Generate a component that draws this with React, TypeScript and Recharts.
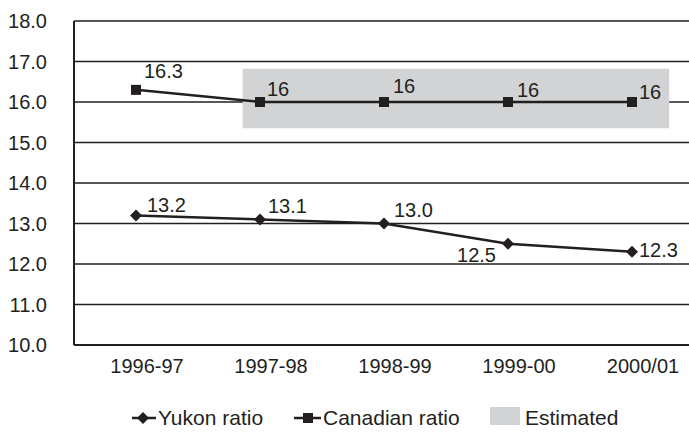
import React from 'react';
import {
  LineChart,
  Line,
  XAxis,
  YAxis,
  CartesianGrid,
  ReferenceArea,
  LabelList
} from 'recharts';

// Data
const years = ['1996-97', '1997-98', '1998-99', '1999-00', '2000/01'];
const yukonRatio = [13.2, 13.1, 13.0, 12.5, 12.3];
const canadianRatio = [16.3, 16, 16, 16, 16];
const yTicks = [10, 11, 12, 13, 14, 15, 16, 17, 18];
// Estimated band (x in category index units, y in ratio units)
const estimatedX = [0.86, 4.3];
const estimatedY = [15.35, 16.82];

const data = years.map((year, i) => ({
  idx: i,
  year,
  yukon: yukonRatio[i],
  canadian: canadianRatio[i]
}));

const INK = '#231f20';
const GREY = '#d1d3d4';
const FONT = '"Liberation Sans", Arial, sans-serif';

// label offsets relative to each point [dx, dy, anchor]
const yukonLabelPos: [number, number, string][] = [
  [11, -3, 'start'],
  [8, -6, 'start'],
  [10, -7, 'start'],
  [-12, 18, 'end'],
  [7, 5, 'start']
];
const canadianLabelPos: [number, number, string][] = [
  [8, -12, 'start'],
  [7, -6, 'start'],
  [9, -9, 'start'],
  [9, -5, 'start'],
  [7, -3, 'start']
];

const makeLabel = (pos: [number, number, string][], fmt: (v: number) => string) =>
  (props: any) => {
    const { x, y, value, index } = props;
    const [dx, dy, anchor] = pos[index];
    return (
      <text
        x={x + dx}
        y={y + dy}
        textAnchor={anchor}
        fontSize={20}
        fontFamily={FONT}
        fill={INK}
      >
        {fmt(value)}
      </text>
    );
  };

const Diamond = (props: any) => {
  const { cx, cy } = props;
  return (
    <polygon
      points={`${cx},${cy - 6} ${cx + 6},${cy} ${cx},${cy + 6} ${cx - 6},${cy}`}
      fill={INK}
    />
  );
};

const Square = (props: any) => {
  const { cx, cy } = props;
  return <rect x={cx - 5} y={cy - 5} width={10} height={10} fill={INK} />;
};

const XTick = (props: any) => {
  const { x, y, payload } = props;
  return (
    <text x={x + 11} y={y} dy="0.71em" textAnchor="middle" fontSize={20} fontFamily={FONT} fill={INK}>
      {years[payload.value]}
    </text>
  );
};

const App = () => {
  return (
    <div style={{ position: 'absolute', left: 0, top: 0, width: 689, height: 433, overflow: 'hidden', background: '#fff' }}>
      <LineChart
        width={694}
        height={433}
        data={data}
        margin={{ top: 21, right: 0, left: 0, bottom: 58 }}
      >
        <CartesianGrid vertical={false} stroke={INK} strokeWidth={1.5} />
        <ReferenceArea
          x1={estimatedX[0]}
          x2={estimatedX[1]}
          y1={estimatedY[0]}
          y2={estimatedY[1]}
          fill={GREY}
          fillOpacity={1}
          stroke="none"
        />
        <XAxis
          dataKey="idx"
          type="number"
          domain={[-0.5, 4.5]}
          ticks={[0, 1, 2, 3, 4]}
          height={30}
          axisLine={{ stroke: INK, strokeWidth: 2 }}
          tickLine={false}
          tickSize={0}
          tickMargin={14}
          tick={<XTick />}
        />
        <YAxis
          domain={[10, 18]}
          ticks={yTicks}
          width={74}
          axisLine={{ stroke: INK, strokeWidth: 2 }}
          tickLine={false}
          tickSize={0}
          tickMargin={27}
          tickFormatter={(v: number) => v.toFixed(1)}
          tick={{ fontSize: 20, fontFamily: FONT, fill: INK }}
        />
        <Line
          type="linear"
          dataKey="canadian"
          stroke={INK}
          strokeWidth={2.5}
          dot={<Square />}
          activeDot={false}
          isAnimationActive={false}
        >
          <LabelList dataKey="canadian" content={makeLabel(canadianLabelPos, (v) => String(v))} />
        </Line>
        <Line
          type="linear"
          dataKey="yukon"
          stroke={INK}
          strokeWidth={2.5}
          dot={<Diamond />}
          activeDot={false}
          isAnimationActive={false}
        >
          <LabelList dataKey="yukon" content={makeLabel(yukonLabelPos, (v) => v.toFixed(1))} />
        </Line>
      </LineChart>
      <svg
        width={689}
        height={40}
        style={{ position: 'absolute', left: 0, top: 395 }}
      >
        <line x1={132} x2={156} y1={23} y2={23} stroke={INK} strokeWidth={2.5} />
        <polygon points="143,17 149,23 143,29 137,23" fill={INK} />
        <text x={158} y={30} fontSize={21} fontFamily={FONT} fill={INK}>Yukon ratio</text>
        <line x1={294} x2={321} y1={23} y2={23} stroke={INK} strokeWidth={2.5} />
        <rect x={303} y={18} width={10} height={10} fill={INK} />
        <text x={323} y={30} fontSize={21} fontFamily={FONT} fill={INK}>Canadian ratio</text>
        <rect x={490} y={12} width={30} height={18} fill={GREY} />
        <text x={525} y={30} fontSize={21} fontFamily={FONT} fill={INK}>Estimated</text>
      </svg>
    </div>
  );
};

export default App;
